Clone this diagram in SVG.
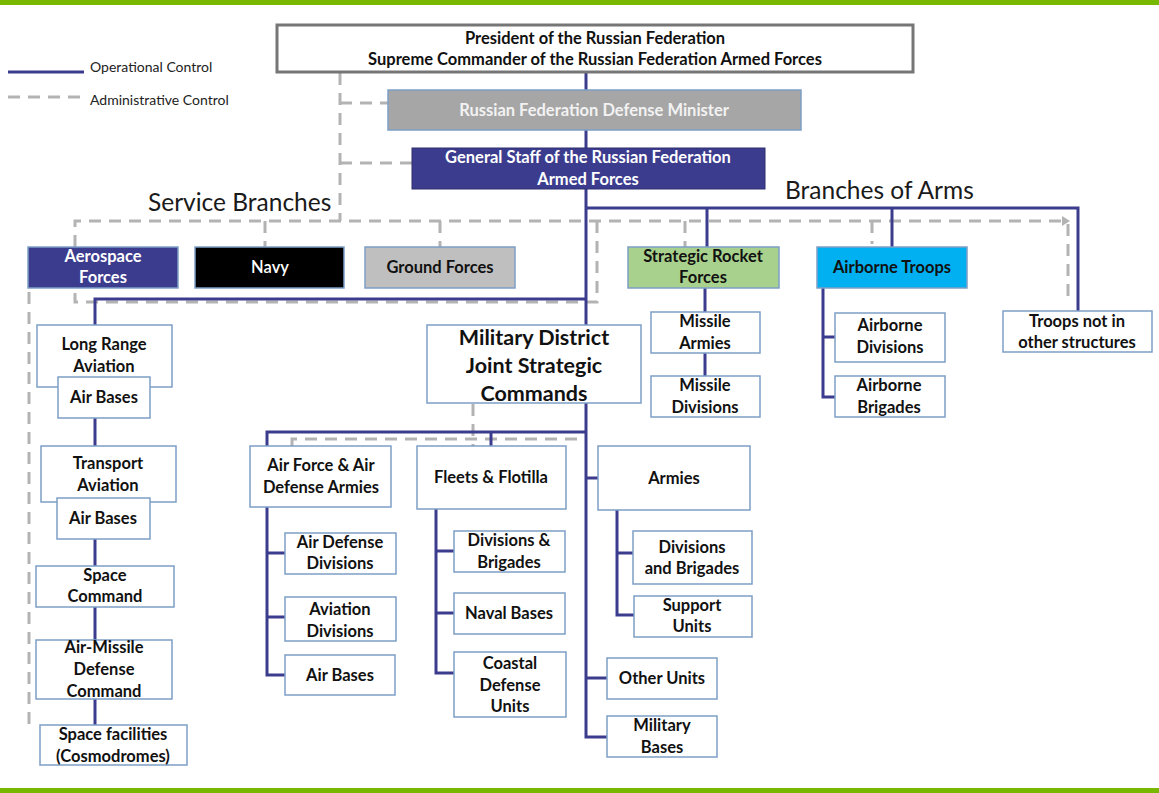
<svg xmlns="http://www.w3.org/2000/svg" width="1159" height="793" viewBox="0 0 1159 793">
<style>
.t{font-family:Lato,"Liberation Sans",Arial,sans-serif;font-weight:bold;font-size:16.5px;fill:#111;text-anchor:middle;dominant-baseline:central}
.w{fill:#fff}
.box{fill:#fff;stroke:#7d9ec6;stroke-width:1.5}
.op{fill:none;stroke:#3c3c8e;stroke-width:3}
.ad{fill:none;stroke:#b3b3b3;stroke-width:3;stroke-dasharray:12 8}
.hd{font-family:Lato,"Liberation Sans",Arial,sans-serif;font-size:24.5px;fill:#1a1a1a}
.lg{font-family:Lato,"Liberation Sans",Arial,sans-serif;font-size:14px;fill:#222;dominant-baseline:central}
.big{font-size:21.5px}
</style>
<rect x="0" y="0" width="1159" height="793" fill="#fff"/>
<rect x="0" y="0" width="1159" height="5" fill="#78b800"/>
<rect x="0" y="788" width="1159" height="5" fill="#78b800"/>

<g id="legend">
<line x1="8" y1="72" x2="84" y2="72" class="op"/>
<text x="90" y="66" class="lg">Operational Control</text>
<line x1="8" y1="97" x2="84" y2="97" class="ad"/>
<text x="90" y="99" class="lg">Administrative Control</text>
</g>

<g id="headings">
<text x="148" y="211" class="hd">Service Branches</text>
<text x="785" y="199" class="hd">Branches of Arms</text>
</g>

<g id="connectors">
<path class="ad" d="M340,73 V221 M340,103 H388 M340,163 H412"/>
<path class="ad" d="M75,247 V221 H1062"/>
<polygon points="1062,216 1070,221 1062,226" fill="#b3b3b3"/>
<path class="ad" d="M1068,224 V302"/>
<path class="ad" d="M265,221 V247 M440,221 V247 M685,221 V247 M872,221 V244"/>
<path class="ad" d="M597,221 V302 H75 V288"/>
<path class="ad" d="M29,292 V732"/>
<path class="ad" d="M473,404 V446 M292,446 V439 H586"/>

<path class="op" d="M586,72 V90 M586,130 V148 M586,189 V325"/>
<path class="op" d="M586,403 V737 H607 M586,678 H607 M586,478 H598"/>
<path class="op" d="M586,208 H1078 V311 M707,208 V247 M892,208 V247"/>
<path class="op" d="M586,299 H95 V325"/>
<path class="op" d="M95,418 V446 M95,539 V566 M95,607 V640 M95,699 V725"/>
<path class="op" d="M586,432 H267 V446 M491,432 V446"/>
<path class="op" d="M267,507 V675 H285 M267,553 H285 M267,617 H285"/>
<path class="op" d="M436,509 V673 H454 M436,551 H454 M436,613 H454"/>
<path class="op" d="M617,510 V615 H634 M617,553 H633"/>
<path class="op" d="M705,288 V312 M705,353 V376"/>
<path class="op" d="M823,288 V397 H835 M823,337 H835"/>
</g>

<g id="president">
<rect x="277" y="25" width="636" height="47" fill="#fff" stroke="#767676" stroke-width="3"/>
<text x="595" y="38" class="t">President of the Russian Federation</text>
<text x="595" y="59" class="t">Supreme Commander of the Russian Federation Armed Forces</text>
</g>
<g id="defense-minister">
<rect x="388" y="90" width="413" height="40" fill="#a6a6a6" stroke="#7d9ec6" stroke-width="1.5"/>
<text x="594" y="110" class="t" style="fill:#f2f2f2">Russian Federation Defense Minister</text>
</g>
<g id="general-staff">
<rect x="412" y="148" width="353" height="41" fill="#3c3c8e" stroke="#2e2e70" stroke-width="1"/>
<text x="588" y="157" class="t w">General Staff of the Russian Federation</text>
<text x="588" y="179" class="t w">Armed Forces</text>
</g>

<g id="aerospace">
<rect x="28" y="247" width="150" height="41" fill="#3c3c8e" stroke="#7d9ec6" stroke-width="1.5"/>
<text x="103" y="256" class="t w">Aerospace</text>
<text x="103" y="277" class="t w">Forces</text>
</g>
<g id="navy">
<rect x="195" y="247" width="149" height="41" fill="#000" stroke="#7d9ec6" stroke-width="1.5"/>
<text x="270" y="267" class="t w" style="font-weight:600">Navy</text>
</g>
<g id="ground-forces">
<rect x="365" y="247" width="150" height="41" fill="#bfbfbf" stroke="#7d9ec6" stroke-width="1.5"/>
<text x="440" y="267" class="t">Ground Forces</text>
</g>
<g id="strategic-rocket">
<rect x="628" y="247" width="151" height="41" fill="#a9d18e" stroke="#7d9ec6" stroke-width="1.5"/>
<text x="703" y="256" class="t">Strategic Rocket</text>
<text x="703" y="277" class="t">Forces</text>
</g>
<g id="airborne-troops">
<rect x="817" y="247" width="150" height="41" fill="#00b0f0" stroke="#7d9ec6" stroke-width="1.5"/>
<text x="892" y="267" class="t">Airborne Troops</text>
</g>
<g id="troops-other">
<rect x="1003" y="311" width="149" height="41" class="box"/>
<text x="1077" y="321" class="t">Troops not in</text>
<text x="1077" y="342" class="t">other structures</text>
</g>

<g id="long-range-aviation">
<rect x="37" y="325" width="135" height="62" class="box"/>
<text x="104" y="344" class="t">Long Range</text>
<text x="104" y="366" class="t">Aviation</text>
</g>
<g id="air-bases-1">
<rect x="58" y="377" width="92" height="41" class="box"/>
<text x="104" y="397" class="t">Air Bases</text>
</g>
<g id="transport-aviation">
<rect x="41" y="446" width="135" height="56" class="box"/>
<text x="108" y="463" class="t">Transport</text>
<text x="108" y="485" class="t">Aviation</text>
</g>
<g id="air-bases-2">
<rect x="57" y="498" width="93" height="41" class="box"/>
<text x="103" y="518" class="t">Air Bases</text>
</g>
<g id="space-command">
<rect x="36" y="566" width="138" height="41" class="box"/>
<text x="105" y="575" class="t">Space</text>
<text x="105" y="596" class="t">Command</text>
</g>
<g id="air-missile-defense">
<rect x="36" y="640" width="136" height="59" class="box"/>
<text x="104" y="647" class="t">Air-Missile</text>
<text x="104" y="669" class="t">Defense</text>
<text x="104" y="691" class="t">Command</text>
</g>
<g id="space-facilities">
<rect x="40" y="725" width="147" height="40" class="box"/>
<text x="113" y="734" class="t">Space facilities</text>
<text x="113" y="756" class="t">(Cosmodromes)</text>
</g>

<g id="military-district">
<rect x="427" y="325" width="214" height="78" class="box"/>
<text x="534" y="337" class="t big">Military District</text>
<text x="534" y="365" class="t big">Joint Strategic</text>
<text x="534" y="393" class="t big">Commands</text>
</g>

<g id="air-force-armies">
<rect x="250" y="446" width="141" height="61" class="box"/>
<text x="321" y="465" class="t">Air Force &amp; Air</text>
<text x="321" y="487" class="t">Defense Armies</text>
</g>
<g id="air-defense-divisions">
<rect x="285" y="533" width="111" height="41" class="box"/>
<text x="340" y="542" class="t">Air Defense</text>
<text x="340" y="563" class="t">Divisions</text>
</g>
<g id="aviation-divisions">
<rect x="285" y="597" width="111" height="44" class="box"/>
<text x="340" y="609" class="t">Aviation</text>
<text x="340" y="631" class="t">Divisions</text>
</g>
<g id="air-bases-3">
<rect x="285" y="655" width="110" height="40" class="box"/>
<text x="340" y="675" class="t">Air Bases</text>
</g>

<g id="fleets">
<rect x="417" y="446" width="149" height="63" class="box"/>
<text x="491" y="477" class="t">Fleets &amp; Flotilla</text>
</g>
<g id="divisions-brigades-navy">
<rect x="454" y="531" width="111" height="41" class="box"/>
<text x="509" y="540" class="t">Divisions &amp;</text>
<text x="509" y="562" class="t">Brigades</text>
</g>
<g id="naval-bases">
<rect x="454" y="593" width="111" height="41" class="box"/>
<text x="509" y="613" class="t">Naval Bases</text>
</g>
<g id="coastal-defense">
<rect x="454" y="652" width="112" height="65" class="box"/>
<text x="510" y="663" class="t">Coastal</text>
<text x="510" y="685" class="t">Defense</text>
<text x="510" y="706" class="t">Units</text>
</g>

<g id="armies">
<rect x="598" y="446" width="152" height="64" class="box"/>
<text x="674" y="478" class="t">Armies</text>
</g>
<g id="divisions-and-brigades">
<rect x="633" y="531" width="119" height="53" class="box"/>
<text x="692" y="547" class="t">Divisions</text>
<text x="692" y="568" class="t">and Brigades</text>
</g>
<g id="support-units">
<rect x="634" y="596" width="118" height="41" class="box"/>
<text x="692" y="605" class="t">Support</text>
<text x="692" y="626" class="t">Units</text>
</g>
<g id="other-units">
<rect x="607" y="658" width="110" height="41" class="box"/>
<text x="662" y="678" class="t">Other Units</text>
</g>
<g id="military-bases">
<rect x="607" y="716" width="110" height="41" class="box"/>
<text x="662" y="725" class="t">Military</text>
<text x="662" y="747" class="t">Bases</text>
</g>

<g id="missile-armies">
<rect x="651" y="312" width="109" height="41" class="box"/>
<text x="705" y="321" class="t">Missile</text>
<text x="705" y="343" class="t">Armies</text>
</g>
<g id="missile-divisions">
<rect x="651" y="376" width="109" height="41" class="box"/>
<text x="705" y="385" class="t">Missile</text>
<text x="705" y="407" class="t">Divisions</text>
</g>
<g id="airborne-divisions">
<rect x="835" y="313" width="110" height="49" class="box"/>
<text x="890" y="325" class="t">Airborne</text>
<text x="890" y="347" class="t">Divisions</text>
</g>
<g id="airborne-brigades">
<rect x="835" y="376" width="110" height="41" class="box"/>
<text x="889" y="385" class="t">Airborne</text>
<text x="889" y="407" class="t">Brigades</text>
</g>
</svg>
